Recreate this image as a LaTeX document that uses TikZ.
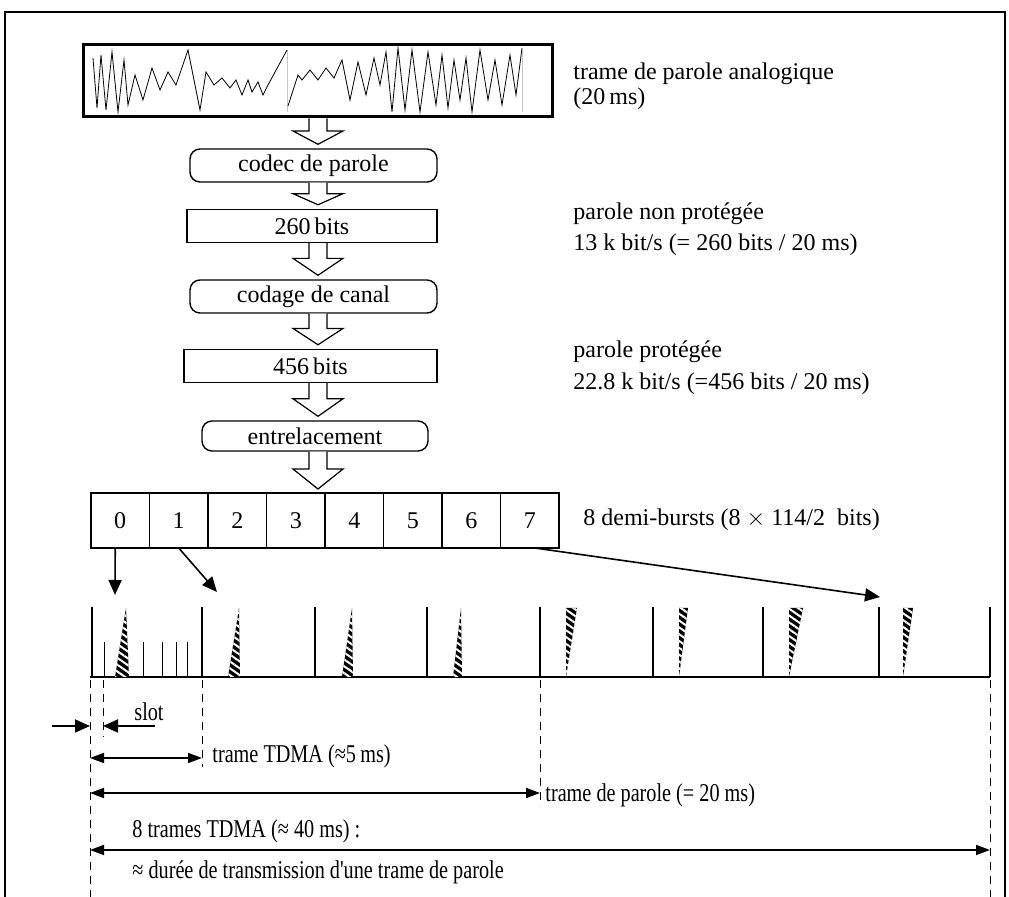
\documentclass[tikz,border=0pt]{standalone}
\usepackage{fontspec}
\setmainfont{Liberation Serif}
\newfontfamily\condfont[FakeStretch=0.79]{Liberation Serif}
\usetikzlibrary{arrows.meta,patterns.meta,calc}
\newcommand\harrow[2]{%
  \coordinate (ha) at (axis |- #1.south);
  \coordinate (hb) at (axis |- #2.north);
  \coordinate (hm) at ($(ha)!0.42!(hb)$);
  \draw[harrowst] ([xshift=-4.5pt]ha) -- ([xshift=-4.5pt]hm) -- ([xshift=-12.5pt]hm) -- ([yshift=2pt]hb) -- ([xshift=12.5pt]hm) -- ([xshift=4.5pt]hm) -- ([xshift=4.5pt]ha);}
\newcommand\wedgeup[3]{%
  \path[preaction={fill=black}, pattern={Lines[angle=-35,distance=2.8pt,line width=1pt]}, pattern color=white] (#1,677) -- (#2,677) -- (#3,608) -- cycle;}
\newcommand\wedgedown[3]{%
  \path[preaction={fill=black}, pattern={Lines[angle=-35,distance=2.8pt,line width=1pt]}, pattern color=white] (#1,608) -- (#2,608) -- (#3,677) -- cycle;}
\begin{document}
\begin{tikzpicture}[x=0.5pt,y=-0.5pt,
  font=\fontsize{12}{14}\selectfont,
  flowbox/.style={draw, line width=0.7pt, inner sep=0, minimum height=16.5pt},
  roundbox/.style={flowbox, rounded corners=5pt},
  burst/.style={draw, line width=0.7pt, minimum width=29.25pt, minimum height=27.5pt, inner sep=0, outer sep=0},
  lbl/.style={anchor=west, inner sep=0},
  dimlbl/.style={lbl, font={\fontsize{12.8}{14}\selectfont\condfont}},
  harrowst/.style={draw, fill=white, line width=0.6pt, line join=miter},
  tick/.style={line width=1pt},
  thintick/.style={line width=0.45pt},
  guide/.style={dash pattern=on 4pt off 3pt, line width=0.4pt},
  dimarrow/.style={line width=0.9pt, {Triangle[length=7pt,width=5pt]}-{Triangle[length=7pt,width=5pt]}},
  ptr/.style={line width=0.8pt, -{Triangle[length=7.5pt,width=6.5pt]}}]
\useasboundingbox (0,0) rectangle (1009,897);
% outer frame
\draw[line width=1.2pt] (5,905) -- (5,12) -- (1005,12) -- (1005,905);
\coordinate (axis) at (318,0);
% waveform box
\node[draw, line width=1.5pt, minimum width=234.5pt, minimum height=36pt, inner sep=0] (wave) at (317.5,81) {};
\draw[gray!45, line width=0.3pt] (287,50) -- (287,112) (522,50) -- (522,112);
\draw[line width=0.4pt, line join=miter] plot coordinates {(93,58) (97,108) (101,55) (106,110) (112,52) (118,112) (124,60) (128,105) (135,75) (143,100) (152,68) (160,90) (168,72) (176,85) (188,50) (200,110) (206,72) (214,85) (222,78) (230,88) (236,80) (242,95) (248,80) (252,92) (258,82) (263,95) (268,85) (287,50)};
\draw[line width=0.4pt, line join=miter] plot coordinates {(288,106) (298,75) (302,80) (310,70) (318,80) (326,68) (334,78) (342,60) (350,100) (358,62) (366,95) (374,58) (380,85) (386,52) (392,112) (398,48) (405,110) (412,50) (420,112) (428,52) (436,105) (442,55) (448,108) (454,60) (460,100) (466,58) (472,112) (480,50) (488,100) (495,60) (502,105) (510,55) (516,95) (522,48)};
\node[lbl] (lw1) at (573,74) {trame de parole analogique};
\node[lbl] (lw2) at (573,99) {(20\,ms)};
% flow boxes
\node[roundbox, minimum width=123.5pt] (codec) at (313.5,165.5) {codec de parole};
\node[flowbox, minimum width=125pt] (b260) at (312,226) {260\,bits};
\node[roundbox, minimum width=123.5pt] (codage) at (313.5,296.5) {codage de canal};
\node[flowbox, minimum width=126.5pt] (b456) at (310.5,366) {456\,bits};
\node[roundbox, minimum width=113pt, minimum height=15pt] (entrel) at (315,436) {entrelacement};
\node[lbl] (l1a) at (573,214) {parole non protégée};
\node[lbl] (l1b) at (573,245) {13 k bit/s (= 260 bits / 20 ms)};
\node[lbl] (l2a) at (573,352) {parole protégée};
\node[lbl] (l2b) at (573,384) {22.8 k bit/s (=456 bits / 20 ms)};
% bursts
\foreach \i in {0,...,7} {
  \node[burst] (b\i) at ({120.25+58.5*\i},520.5) {\i};
}
\node[lbl] (lb) at (583,520) {8 demi-bursts (8 $\times$ 114/2\ \ bits)};
% hollow arrows
\harrow{wave}{codec}
\harrow{codec}{b260}
\harrow{b260}{codage}
\harrow{codage}{b456}
\harrow{b456}{entrel}
\harrow{entrel}{b3}
% timeline
\draw[line width=1.25pt] (90,677) -- (990,677);
\foreach \x in {92,202,315,427,540,653,763,879,990} {
  \draw[tick] (\x,607) -- (\x,677);
}
\foreach \x in {104,143,162,176,187} {
  \draw[thintick] (\x,642) -- (\x,677);
}
\wedgeup{115}{129}{126}
\wedgeup{228}{240}{239}
\wedgeup{342}{353}{352}
\wedgeup{453}{462}{461}
\wedgedown{566}{577}{566}
\wedgedown{679}{688}{679}
\wedgedown{789}{803}{789}
\wedgedown{903}{913}{903}
% pointers from bursts
\coordinate (t0) at (115,595);
\coordinate (t1) at (217,592);
\coordinate (t7) at (880,597);
\draw[ptr] ($(b0.south)+(-5,0)$) -- (t0);
\draw[ptr] (b1.south) -- (t1);
\draw[ptr] ($(b7.south)+(5,0)$) -- (t7);
% guide lines
\coordinate (g0a) at (90,680);   \coordinate (g0b) at (90,897);
\coordinate (g1a) at (103,680);  \coordinate (g1b) at (103,737);
\coordinate (g2a) at (202,680);  \coordinate (g2b) at (202,767);
\coordinate (g3a) at (540,680);  \coordinate (g3b) at (540,806);
\coordinate (g4a) at (990,680);  \coordinate (g4b) at (990,897);
\draw[guide] (g0a) -- (g0b);
\draw[guide] (g1a) -- (g1b);
\draw[guide] (g2a) -- (g2b);
\draw[guide] (g3a) -- (g3b);
\draw[guide] (g4a) -- (g4b);
% slot
\coordinate (s0) at (52,726);  \coordinate (s1) at (90,726);
\coordinate (s2) at (155,726); \coordinate (s3) at (103,726);
\draw[ptr, line width=0.9pt] (s0) -- (s1);
\draw[ptr, line width=0.9pt] (s2) -- (s3);
\node[dimlbl, anchor=center] (lslot) at (149,712) {slot};
% dimension lines
\coordinate (d1a) at (90,758);  \coordinate (d1b) at (202,758);
\coordinate (d2a) at (90,793);  \coordinate (d2b) at (540,793);
\coordinate (d3a) at (90,850);  \coordinate (d3b) at (990,850);
\draw[dimarrow] (d1a) -- (d1b);
\draw[dimarrow] (d2a) -- (d2b);
\draw[dimarrow] (d3a) -- (d3b);
\node[dimlbl] (ld1) at (212,756) {trame TDMA (≈5\,ms)};
\node[dimlbl] (ld2) at (545,795) {trame de parole (= 20 ms)};
\node[dimlbl] (ld3) at (132,831) {8 trames TDMA (≈ 40 ms) :};
\node[dimlbl] (ld4) at (132,872) {≈ durée de transmission d'une trame de parole};
\end{tikzpicture}
\end{document}
